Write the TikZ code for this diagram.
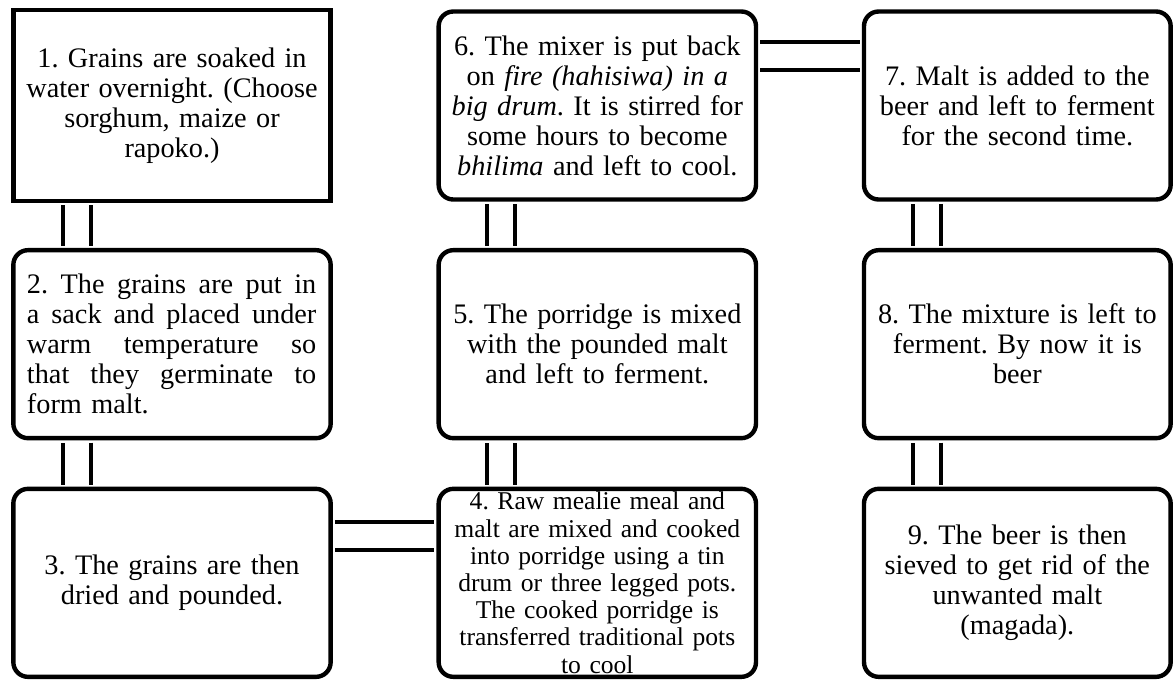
\documentclass[tikz,border=0pt]{standalone}
\usepackage{fontspec}
\setmainfont{Liberation Serif}
\newcommand{\fullline}[1]{\makebox[217pt][s]{\spaceskip=0.25em plus 1fill\relax #1}}

\begin{document}
\begin{tikzpicture}[node distance=179pt,line width=3pt,
	stage node/.style={rectangle,rounded corners=11pt,draw,line width=3.3pt,fill=white,minimum width=238pt,minimum height=141pt,text width=234pt,align=center,inner xsep=1pt,inner ysep=2pt,font=\fontsize{21.2}{22.5}\selectfont\frenchspacing},
	link/.style={double,double distance=18pt,line width=3pt,shorten >=1.6pt,shorten <=1.6pt}]
	\useasboundingbox (-129pt,79.125pt) rectangle (752.25pt,-430.125pt);

	\node[stage node,sharp corners,minimum height=143pt] (1) {1. Grains are soaked in\\ water overnight. (Choose\\ sorghum, maize or\\ rapoko.)};
	\node[stage node,text width=217.5pt,align=left] (2) [below of=1] {\fullline{2. The grains are put in}\\ \fullline{a sack and placed under}\\ \fullline{warm temperature so}\\ \fullline{that they germinate to}\\ form malt.};
	\node[stage node] (3) [below of=2] {3. The grains are then\\ dried and pounded.};
	\node[stage node,node distance=319pt,inner ysep=0pt,font=\fontsize{19.2}{20.4}\selectfont\frenchspacing] (4) [right of=3] {4. Raw mealie meal and\\ malt are mixed and cooked\\ into porridge using a tin\\ drum or three legged pots.\\ The cooked porridge is\\ transferred traditional pots\\ to cool};
	\node[stage node] (5) [above of=4] {5. The porridge is mixed\\ with the pounded malt\\ and left to ferment.};
	\node[stage node] (6) [above of=5] {6. The mixer is put back\\ on \textit{fire (hahisiwa) in a}\\ \textit{big drum}. It is stirred for\\ some hours to become\\ \textit{bhilima} and left to cool.};
	\node[stage node,node distance=315pt,minimum width=230pt,text width=226pt] (7) [right of=6] {7. Malt is added to the\\ beer and left to ferment\\ for the second time.};
	\node[stage node,minimum width=230pt,text width=226pt] (8) [below of=7] {8. The mixture is left to\\ ferment. By now it is\\ beer};
	\node[stage node,minimum width=230pt,text width=226pt] (9) [below of=8] {9. The beer is then\\ sieved to get rid of the\\ unwanted malt\\ (magada).};

	\draw[link] ([xshift=-71pt]1.south) -- ([xshift=-71pt]2.north);
	\draw[link] ([xshift=-71pt]2.south) -- ([xshift=-71pt]3.north);
	\draw[link] ([yshift=34.8pt]3.east) -- ([yshift=34.8pt]4.west);
	\draw[link] ([xshift=-72pt]4.north) -- ([xshift=-72pt]5.south);
	\draw[link] ([xshift=-72pt]5.north) -- ([xshift=-72pt]6.south);
	\draw[link] ([yshift=37.5pt]6.east) -- ([yshift=37.5pt]7.west);
	\draw[link] ([xshift=-68pt]7.south) -- ([xshift=-68pt]8.north);
	\draw[link] ([xshift=-68pt]8.south) -- ([xshift=-68pt]9.north);
\end{tikzpicture}
\end{document}
